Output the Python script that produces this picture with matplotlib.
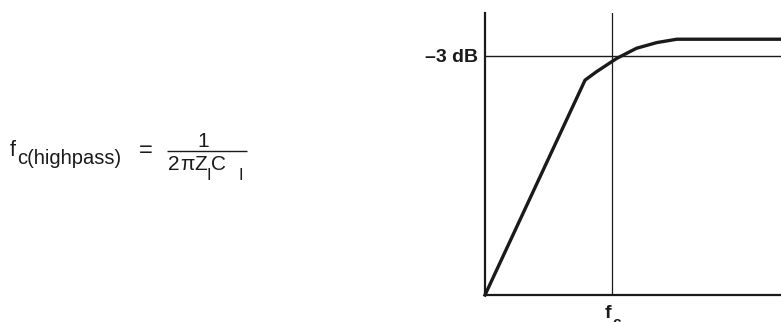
import matplotlib
matplotlib.use("Agg")
import matplotlib.pyplot as plt

plt.rcParams['font.family'] = ['Liberation Sans', 'DejaVu Sans']

# high-pass response, normalised frequency vs normalised gain
freq = [0.0, 0.338, 0.377, 0.445, 0.512, 0.580, 0.648, 1.0]
gain = [0.0, 0.762, 0.792, 0.839, 0.875, 0.895, 0.907, 0.907]
fc = 0.429
minus3db = 0.848

W, H = 781, 322
fig = plt.figure(figsize=(W / 100, H / 100), dpi=100)

# overlay in pixel units for the formula
ov = fig.add_axes([0, 0, 1, 1])
ov.set_xlim(0, W)
ov.set_ylim(H, 0)
ov.axis('off')

ink = '#1a1a1a'
# f_c(highpass) = 1 / (2 pi Z_I C_I)
ov.text(10, 156, 'f', fontsize=15.5, color=ink, va='baseline')
ov.text(17, 164, 'c(highpass)', fontsize=14.5, color=ink, va='baseline')
ov.text(146, 157, '=', fontsize=17, color=ink, va='baseline', ha='center')
ov.text(203, 147, '1', fontsize=15, color=ink, va='baseline', ha='center')
ov.hlines(151, 167, 247, color=ink, lw=1.0)
ov.text(168, 170, '2', fontsize=15, color=ink, va='baseline')
ov.text(180, 170, 'π', fontsize=15, color=ink, va='baseline')
ov.text(194, 170, 'Z', fontsize=15, color=ink, va='baseline')
ov.text(207, 180, 'I', fontsize=12, color=ink, va='baseline')
ov.text(211, 170, 'C', fontsize=15, color=ink, va='baseline')
ov.text(238, 180, 'I', fontsize=12, color=ink, va='baseline')

# fc label
ov.text(611, 318, 'f', fontsize=14, fontweight='bold', color=ink, va='baseline', ha='right')
ov.text(612, 327, 'c', fontsize=11, fontweight='bold', color=ink, va='baseline', ha='left')

# response chart
ax = fig.add_axes([485 / W, 27 / H, (W - 485) / W, 282 / H])
ax.patch.set_alpha(0)
ax.set_xlim(0, 1)
ax.set_ylim(0, 1)
for s in ['top', 'right']:
    ax.spines[s].set_visible(False)
for s in ['left', 'bottom']:
    ax.spines[s].set_linewidth(1.6)
    ax.spines[s].set_color(ink)

ax.axhline(minus3db, color=ink, lw=1.0)
ax.axvline(fc, color=ink, lw=0.9)
ax.plot(freq, gain, color=ink, lw=2.4, clip_on=False, solid_joinstyle='round')

ax.set_xticks([])
ax.set_yticks([minus3db])
ax.set_yticklabels(['–3 dB'], fontsize=14, fontweight='bold', color=ink)
ax.tick_params(axis='y', length=0, pad=5)

fig.savefig('out.png', dpi=100)
